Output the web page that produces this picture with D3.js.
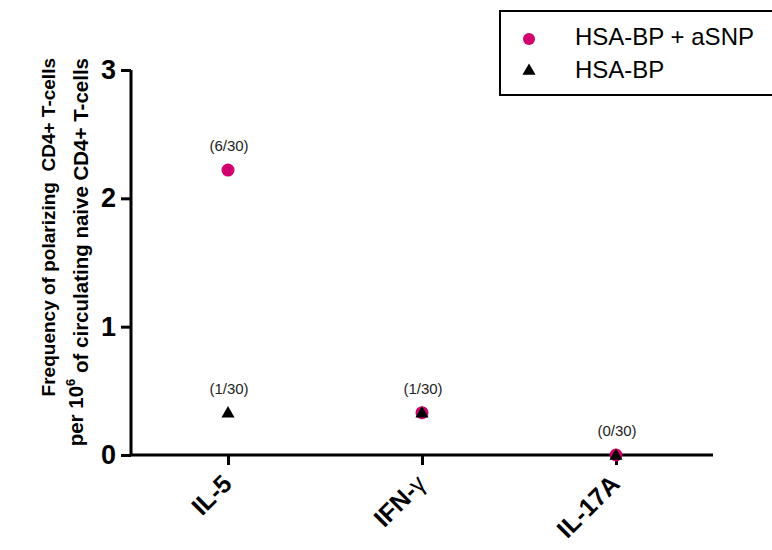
<!DOCTYPE html>
<html>
<head>
<meta charset="utf-8">
<script src="https://cdn.jsdelivr.net/npm/d3@7"></script>
<style>
  html, body { margin: 0; padding: 0; background: #fff; }
  svg { display: block; font-family: Arial, "Liberation Sans", sans-serif; }
</style>
</head>
<body>
<svg id="chart" width="772" height="550"></svg>
<script>
const categories = ["IL-5", "IFN-γ", "IL-17A"];
const aSNPValues = [2.22, 0.33, 0.0];
const hsaValues = [0.33, 0.33, 0.0];
const annotations = [
  {cat: "IL-5", value: 2.22, text: "(6/30)"},
  {cat: "IL-5", value: 0.33, text: "(1/30)"},
  {cat: "IFN-γ", value: 0.33, text: "(1/30)"},
  {cat: "IL-17A", value: 0.0, text: "(0/30)"}
];
const yTicks = [0, 1, 2, 3];
const seriesNames = ["HSA-BP + aSNP", "HSA-BP"];
const pink = "#d1006e";

const svg = d3.select("#chart");
const x = d3.scalePoint().domain(categories).range([131, 713]).padding(0.5);
const y = d3.scaleLinear().domain([0, 3]).range([455, 70]);

// Y axis
const yAxis = svg.append("g").attr("transform", "translate(131,0)")
  .call(d3.axisLeft(y).tickValues(yTicks).tickFormat(d3.format("d")).tickSize(10).tickPadding(5));
yAxis.select(".domain").attr("stroke", "#000").attr("stroke-width", 3).attr("d", "M0,70V455");
yAxis.selectAll(".tick line").attr("stroke", "#000").attr("stroke-width", 3);
yAxis.selectAll(".tick text").attr("font-size", 27).attr("font-weight", "bold").attr("fill", "#000")
  .attr("font-family", "Arial, 'Liberation Sans', sans-serif");

// X axis
const xAxis = svg.append("g").attr("transform", "translate(0,455)")
  .call(d3.axisBottom(x).tickSize(10).tickFormat(""));
xAxis.select(".domain").attr("stroke", "#000").attr("stroke-width", 3).attr("d", "M131,0H713");
xAxis.selectAll(".tick line").attr("stroke", "#000").attr("stroke-width", 3);

// X tick labels rotated
categories.forEach(c => {
  const t = svg.append("text")
    .attr("transform", `translate(${x(c) - 7},${473}) rotate(-45)`)
    .attr("text-anchor", "end")
    .attr("dy", "0.7em")
    .attr("font-size", 25).attr("font-weight", "bold").attr("fill", "#000");
  if (c.endsWith("γ")) {
    t.append("tspan").text(c.slice(0, -1));
    t.append("tspan").attr("font-weight", "normal").text("γ");
  } else {
    t.text(c);
  }
});

// Y title
const yt = svg.append("g");
yt.append("text")
  .attr("transform", "translate(55,58) rotate(-90)")
  .attr("text-anchor", "end")
  .attr("font-size", 19).attr("font-weight", "bold").attr("fill", "#000")
  .attr("xml:space", "preserve")
  .text("Frequency of polarizing  CD4+ T-cells");
const t2 = yt.append("text")
  .attr("transform", "translate(83,58) rotate(-90)")
  .attr("text-anchor", "end")
  .attr("font-size", 20.5).attr("font-weight", "bold").attr("fill", "#000");
t2.append("tspan").text("per 10");
t2.append("tspan").attr("font-size", 13).attr("dy", "-0.6em").text("6");
t2.append("tspan").attr("dy", "0.6em").text(" of circulating naive CD4+ T-cells");

// Points: HSA-BP + aSNP (circles) drawn first, HSA-BP triangles on top
svg.append("g").selectAll("circle").data(categories.map((c, i) => ({c, v: aSNPValues[i]})))
  .join("circle")
  .attr("cx", d => x(d.c)).attr("cy", d => y(d.v)).attr("r", 6.5)
  .attr("fill", pink);

const tri = d3.symbol().type(d3.symbolTriangle).size(75);
svg.append("g").selectAll("path").data(categories.map((c, i) => ({c, v: hsaValues[i]})))
  .join("path")
  .attr("d", tri)
  .attr("transform", d => `translate(${x(d.c)},${y(d.v) + 1})`)
  .attr("fill", "#000");

// Annotations
svg.append("g").selectAll("text").data(annotations).join("text")
  .attr("x", d => x(d.cat) + 1)
  .attr("y", d => y(d.value) - 19)
  .attr("text-anchor", "middle")
  .attr("font-size", 15).attr("fill", "#222")
  .text(d => d.text);

// Legend
const lg = svg.append("g");
lg.append("rect").attr("x", 500).attr("y", 11).attr("width", 290).attr("height", 84)
  .attr("fill", "none").attr("stroke", "#000").attr("stroke-width", 2);
lg.append("circle").attr("cx", 529).attr("cy", 39).attr("r", 6).attr("fill", pink);
lg.append("path").attr("d", tri).attr("transform", "translate(529,71)").attr("fill", "#000");
lg.selectAll("text.lt").data(seriesNames).join("text").attr("class", "lt")
  .attr("x", 575).attr("y", (d, i) => 45 + i * 33)
  .attr("font-size", 24).attr("fill", "#000")
  .text(d => d);
</script>
</body>
</html>
